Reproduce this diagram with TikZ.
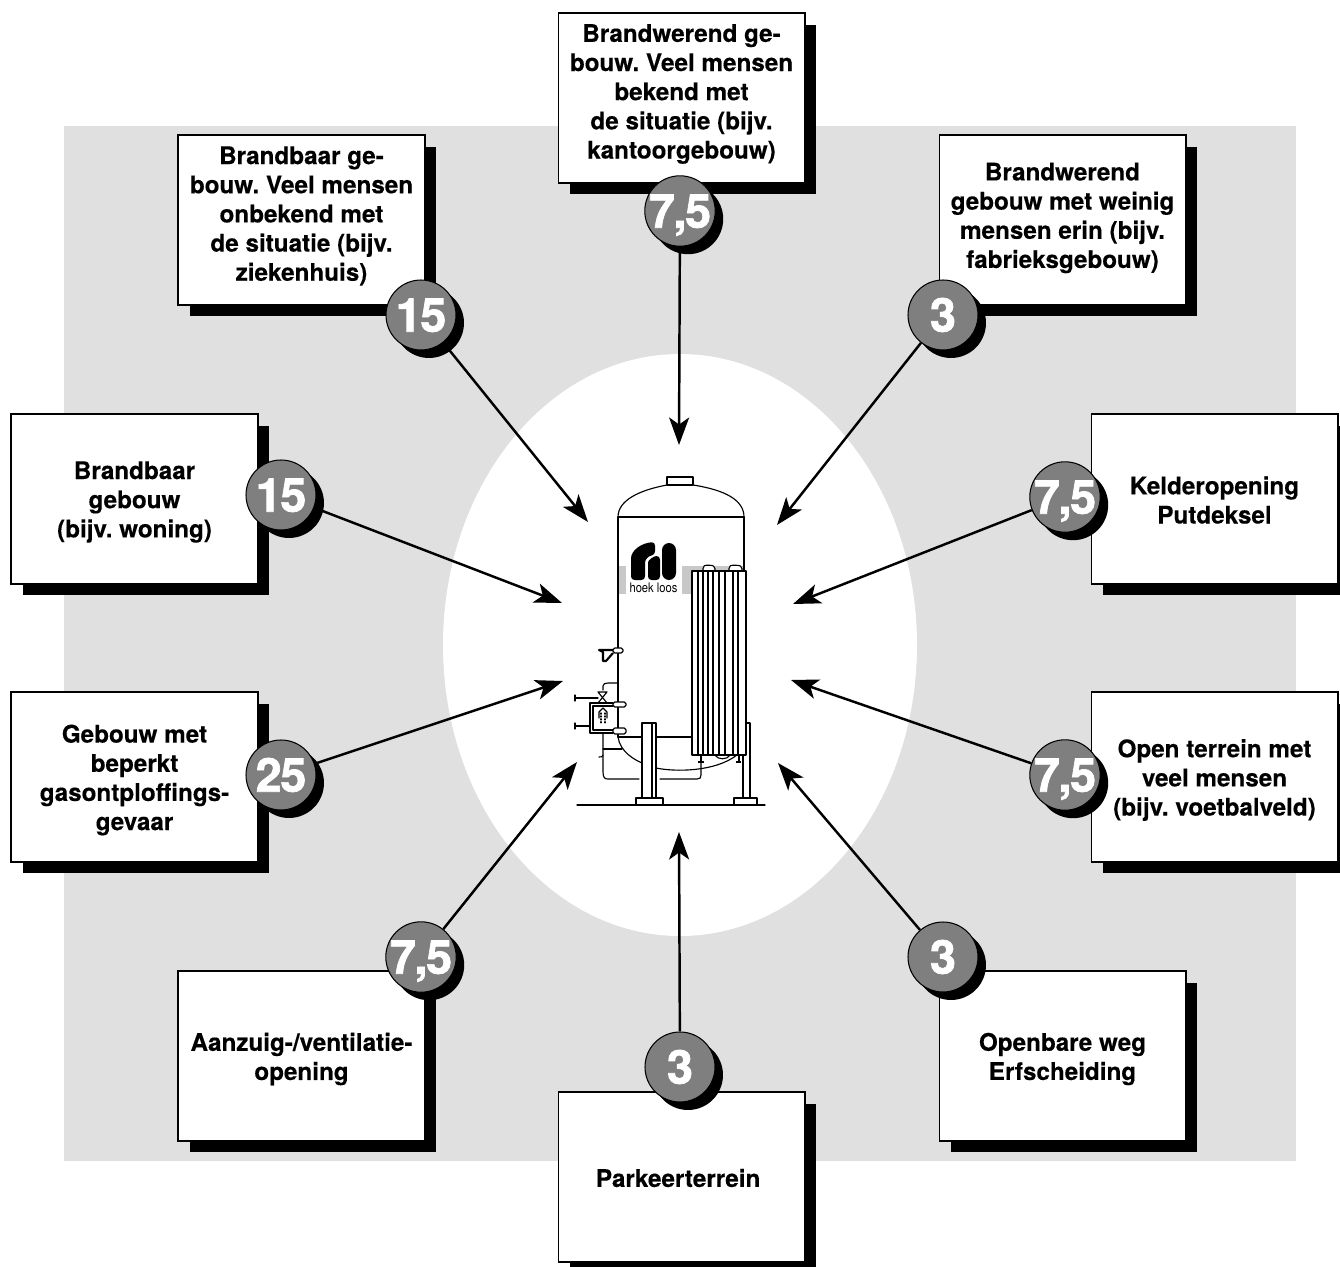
\documentclass[tikz,border=0pt]{standalone}
\usepackage{fontspec}
\setmainfont{TeX Gyre Heros}[BoldFeatures={FakeBold=0.3}]
\newfontfamily\bolfont{TeX Gyre Heros}[BoldFeatures={FakeBold=1.5}, LetterSpace=-3]
\usetikzlibrary{arrows.meta, shadows}
\definecolor{vlak}{HTML}{E0E0E0}
\definecolor{band}{HTML}{C8C8C8}
\definecolor{bol}{HTML}{7F7F7F}
\tikzset{
    kader/.style={draw=black, line width=0.6pt, fill=white, minimum width=4.94cm, minimum height=3.4cm, inner sep=0pt,
        drop shadow={shadow xshift=0.23cm, shadow yshift=-0.23cm, fill=black, opacity=1}},
    kadertekst/.style={inner sep=0pt, align=center, font=\bfseries\frenchspacing\fontsize{13.8}{16.6}\selectfont},
    bolletje/.style={circle, draw=black, line width=0.6pt, fill=bol, text=white, minimum size=1.4cm, inner sep=0pt,
        font=\bolfont\bfseries\fontsize{26.6}{26.6}\selectfont, text height=19pt, text depth=0pt,
        drop shadow={shadow xshift=0.16cm, shadow yshift=-0.16cm, fill=black, opacity=1}},
    pijl/.style={line width=1.4pt, -{Stealth[length=0.55cm, width=0.4cm, inset=0.14cm]}},
    tank/.style={line width=0.65pt, line cap=round, line join=round},
    stomp/.style={tank, fill=white, rounded corners=1pt}
}
\begin{document}
\begin{tikzpicture}[x=0.02cm, y=-0.02cm]
    \useasboundingbox (0,0) rectangle (1340,1267);
    % Background plane and the clearing round the tank
    \fill[vlak] (64,126) rectangle (1296,1161);
    \fill[white] (680,645) ellipse [x radius=237, y radius=291];

    % Text boxes
    \foreach \name/\x/\y/\dy/\tekst in {
        top/681.5/98/-4/{Brandwerend ge-\\bouw. Veel mensen\\bekend met\\de situatie (bijv.\\kantoorgebouw)},
        tl/301.5/220/-4/{Brandbaar ge-\\bouw. Veel mensen\\onbekend met\\de situatie (bijv.\\ziekenhuis)},
        tr/1062.5/220/-2/{Brandwerend\\gebouw met weinig\\mensen erin (bijv.\\fabrieksgebouw)},
        la/134.5/499/3/{Brandbaar\\gebouw\\(bijv. woning)},
        ra/1214.5/499/1/{Kelderopening\\Putdeksel},
        lb/134.5/777/3/{Gebouw met\\beperkt\\gasontploffings-\\gevaar},
        rb/1214.5/777/3/{Open terrein met\\veel mensen\\(bijv. voetbalveld)},
        bl/301.5/1056/3/{Aanzuig-/ventilatie-\\opening},
        br/1062.5/1056/3/{Openbare weg\\Erfscheiding},
        bot/681.5/1177/1/{Parkeerterrein}
    } {
        \node[kader] (box\name) at (\x,\y) {};
        \node[kadertekst] (tekst\name) at (\x,\y+\dy) {\tekst};
    }

    % Numbers on the boxes
    \foreach \name/\x/\y/\getal in {
        top/680/211/{7,5},
        tl/421/315/{15},
        tr/943/315/{3},
        la/281/495/{15},
        ra/1065/497/{7,5},
        lb/281/775/{25},
        rb/1065/775/{7,5},
        bl/421/957/{7,5},
        br/943/957/{3},
        bot/680/1067/{3}
    } {
        \node[bolletje] (num\name) at (\x,\y) {\getal};
    }

    % Arrows towards the tank
    \foreach \name/\x/\y in {
        top/679/445, tl/588/522, tr/777/525, la/562/603, ra/793/604,
        lb/563/681, rb/791/680, bl/577/762, br/778/763, bot/679/832
    } {
        \coordinate (tip\name) at (\x,\y);
        \draw[pijl] (num\name) -- (tip\name);
    }

    % Tank - grey bands first
    \fill[band] (618,566) rectangle (626,594);
    \fill[band] (682,566) rectangle (743,594);
    \draw[tank] (667,485) rectangle (693,477);
    \draw[tank] (618,517) .. controls (618,500) and (640,490) .. (667,485) -- (693,485) .. controls (725,490) and (744,500) .. (744,517);
    \draw[tank] (618,517) -- (744,517);
    \draw[tank] (744,517) -- (744,571);
    \draw[tank] (618,517) -- (618,737);
    \draw[tank] (618,737) .. controls (620,752) and (635,760) .. (642,763);
    \draw[tank] (656,768) .. controls (675,772) and (715,772) .. (737,755);
    \draw[tank] (618,737) -- (642,737) (656,737) -- (692,737);

    % Logo
    \fill[black, rounded corners=2pt] (631,580) -- (631,562) .. controls (631,550) and (642,543) .. (655,542) -- (655,555) .. controls (648,556) and (645,560) .. (645,566) -- (645,580) -- cycle;
    \fill[black, rounded corners=2pt] (648,580) -- (648,566) .. controls (648,560) and (654,556) .. (660,556) -- (660,580) -- cycle;
    \fill[black, rounded corners=4pt] (662,580) rectangle (676,543);
    \node[inner sep=0pt, xscale=0.85, font=\fontsize{7.5}{7.5}\selectfont] (logotekst) at (653.5,588) {hoek loos};

    % Radiator
    \draw[stomp] (703,571) -- (703,567) .. controls (705,565) and (712,565) .. (715,567) -- (715,571);
    \draw[stomp] (729,571) -- (729,567) .. controls (731,565) and (739,565) .. (742,567) -- (742,571);
    \draw[tank, fill=white] (692,571) rectangle (746,755);
    \foreach \x in {698,703,708,713,719,725,733,738} {
        \draw[tank] (\x,571) -- (\x,755);
    }
    \draw[tank] (715,755) .. controls (717,760) and (728,760) .. (730,755);
    \draw[line width=1.4pt] (698,762) -- (704,762) (736,762) -- (741,762);
    \draw[tank] (701,755) -- (701,762) (739,755) -- (739,762);

    % Stands and ground
    \draw[tank, fill=white] (642,723) rectangle (656,798);
    \draw[tank] (652,723) -- (652,798);
    \draw[tank] (636,798) rectangle (663,805);
    \draw[tank] (743,755) -- (743,798) (750,723) -- (750,798) (746,723) -- (750,723);
    \draw[tank] (734,798) rectangle (757,805);
    \draw[tank] (577,805) -- (765,805);

    % Pipes
    \draw[tank] (603,733) -- (603,772) .. controls (603,778) and (605,779) .. (608,779) -- (639,779);
    \draw[tank] (660,779) -- (697,779) .. controls (700,779) and (701,778) .. (701,775) -- (701,762);
    \draw[tank] (603,749) -- (622,749);
    \draw[tank] (603,755) .. controls (603,757) and (601,757) .. (599,757);
    \draw[tank] (603,690) -- (603,686) .. controls (603,684) and (605,683) .. (608,683) -- (618,683);

    % Valve block
    \draw[tank] (613,703) -- (590,703) -- (590,733) -- (613,733);
    \draw[tank] (613,706) -- (593,706) -- (593,730) -- (613,730);
    \draw[tank] (575,698) -- (598,698) (575,695) -- (575,701);
    \draw[tank] (575,726) -- (590,726) (575,723) -- (575,729);
    \draw[tank] (598,692) -- (607,692) -- (598,703) -- (607,703) -- cycle;
    \draw[tank] (599,718) -- (599,712) -- (603,708) -- (607,712) -- (607,718);
    \draw[tank, densely dotted] (601,713) -- (601,724) (605,713) -- (605,724);

    % Nozzles and gauge
    \draw[stomp] (613,648) rectangle (623,653);
    \draw[stomp] (613,702) rectangle (626,707);
    \draw[stomp] (613,728) rectangle (626,734);
    \draw[line width=1.2pt, line join=round] (613,650) -- (599,650) -- (603,652) -- (603,661) -- (606,661) -- (613,653);
\end{tikzpicture}
\end{document}
